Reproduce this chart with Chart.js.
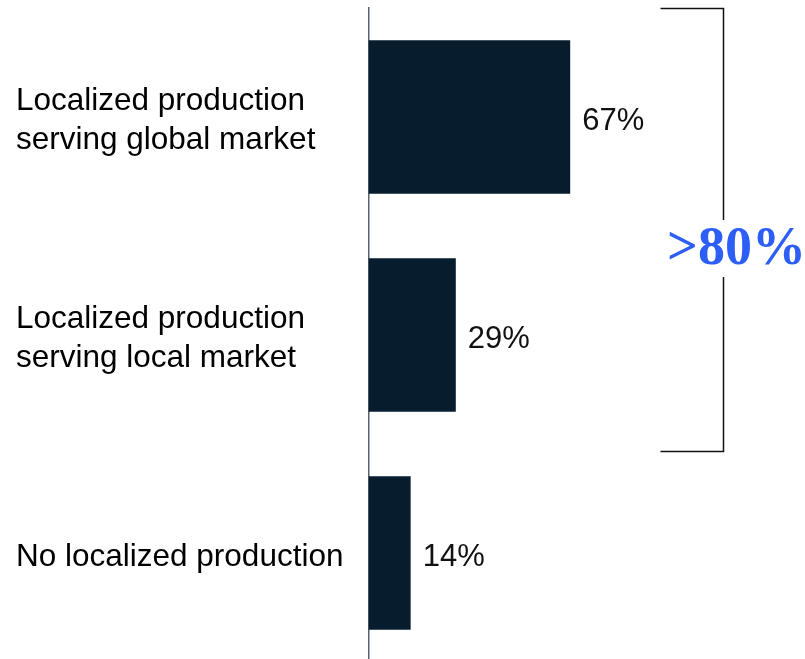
<!DOCTYPE html>
<html>
<head>
<meta charset="utf-8">
<script src="https://cdn.jsdelivr.net/npm/chart.js@4/dist/chart.umd.min.js"></script>
<style>
html,body{margin:0;padding:0;background:#fff;overflow:hidden;}
#wrap{width:805px;height:659px;overflow:hidden;}
</style>
</head>
<body>
<div id="wrap"><canvas id="c" width="805" height="664"></canvas></div>
<script>
const categories = [
  ["Localized production", "serving global market"],
  ["Localized production", "serving local market"],
  "No localized production"
];
const values = [67, 29, 14];
const valueLabels = ["67%", "29%", "14%"];
const bracketText = ">80%";

const labelFont = "'Liberation Sans', Arial, sans-serif";

const annotatePlugin = {
  id: 'annotate',
  afterDatasetsDraw(chart) {
    const ctx = chart.ctx;
    const meta = chart.getDatasetMeta(0);
    const xs = chart.scales.x, ys = chart.scales.y;
    ctx.save();
    // value labels
    ctx.font = "31px " + labelFont;
    ctx.fillStyle = '#111111';
    ctx.textAlign = 'left';
    ctx.textBaseline = 'middle';
    meta.data.forEach((bar, i) => {
      ctx.fillText(valueLabels[i], bar.x + 12, bar.y + 4);
    });
    // bracket
    const xl = xs.getPixelForValue(97);
    const xr = Math.round(xs.getPixelForValue(117.8)) + 0.5;
    const yt = chart.chartArea.top + 0.5;
    const yb = Math.round(ys.getPixelForValue(1.532)) + 0.5;
    ctx.strokeStyle = '#111111';
    ctx.lineWidth = 1.5;
    ctx.beginPath();
    ctx.moveTo(xl, yt); ctx.lineTo(xr, yt); ctx.lineTo(xr, yb); ctx.lineTo(xl, yb);
    ctx.stroke();
    // text with white knockout
    const ty = (yt + yb) / 2 + 20;
    ctx.font = "bold 54px 'Liberation Serif', 'Times New Roman', serif";
    const w = ctx.measureText(bracketText).width;
    const tx = xr + 13;
    ctx.fillStyle = '#ffffff';
    ctx.fillRect(tx - w / 2 - 2, ty - 30, w + 4, 57);
    ctx.fillStyle = '#2d5ef6';
    ctx.textAlign = 'center';
    ctx.fillText(bracketText, tx, ty);
    ctx.restore();
  }
};

new Chart(document.getElementById('c'), {
  type: 'bar',
  data: {
    labels: categories,
    datasets: [{
      data: values,
      backgroundColor: '#071d2d',
      borderWidth: 0,
      categoryPercentage: 1,
      barPercentage: 0.705
    }]
  },
  options: {
    indexAxis: 'y',
    responsive: false,
    animation: false,
    events: [],
    layout: { padding: { top: 8, bottom: 2, left: 16, right: 0 } },
    plugins: { legend: { display: false }, tooltip: { enabled: false } },
    scales: {
      x: { display: false, min: 0, max: 145 },
      y: {
        grid: { display: false },
        border: { display: true, color: '#56636e', width: 1.5 },
        ticks: {
          crossAlign: 'far',
          labelOffset: 4,
          color: '#000000',
          font: { family: labelFont, size: 31.5, lineHeight: 1.24 }
        },
        afterFit(scale) {
          scale.width = 352.5;
          scale.paddingTop = 0;
          scale.paddingBottom = 0;
        }
      }
    }
  },
  plugins: [annotatePlugin]
});
</script>
</body>
</html>
